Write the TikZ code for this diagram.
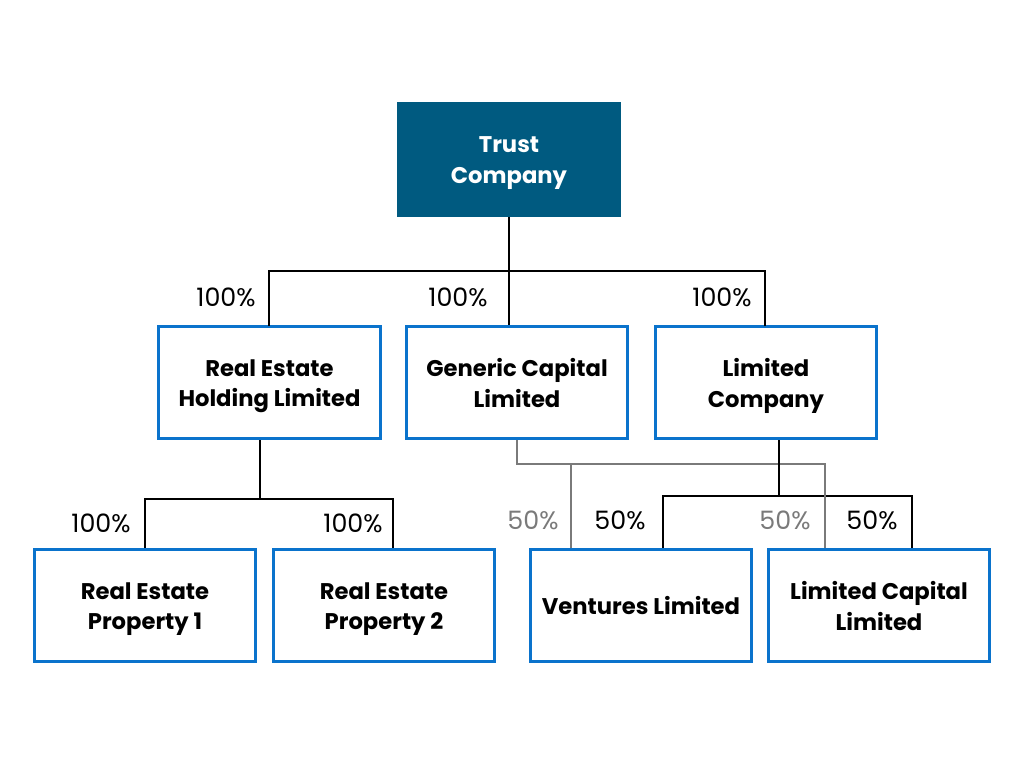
\documentclass[tikz,border=0pt]{standalone}
\usepackage{fontspec}
\setmainfont{Poppins}
\begin{document}
\begin{tikzpicture}[x=0.75pt,y=-0.75pt,
  ent/.style={draw=boxblue,line width=2.4pt,fill=white,minimum width=166pt,minimum height=84pt,inner sep=0pt},
  top/.style={fill=trustblue,minimum width=168pt,minimum height=86pt,inner sep=0pt},
  txt/.style={inner sep=0pt,align=center,font=\fontsize{17}{23}\selectfont\bfseries},
  two/.style={txt,yshift=-2.7pt},
  twoflat/.style={txt,yshift=-0.3pt},
  own/.style={line width=2.2pt,black},
  gown/.style={line width=2.2pt,linegray},
  pct/.style={font=\fontsize{19}{21}\selectfont,inner sep=0pt},
  gpct/.style={pct,text=linegray}]
\definecolor{boxblue}{HTML}{0A73CC}
\definecolor{trustblue}{HTML}{005A80}
\definecolor{linegray}{HTML}{7A7A7A}
\useasboundingbox[fill=white] (0,0) rectangle (1024,768);
% boxes
\node[top] (trust) at (509,159.5) {};
\node[ent] (reh) at (269.5,382.5) {};
\node[ent] (gc) at (517,382.5) {};
\node[ent] (lc) at (766,382.5) {};
\node[ent] (rp1) at (145,605.5) {};
\node[ent] (rp2) at (384,605.5) {};
\node[ent] (ven) at (641,605.5) {};
\node[ent] (lcap) at (879,605.5) {};
% texts
\node[two,text=white] (ttrust) at (trust) {Trust\\Company};
\node[two] (treh) at (reh) {Real Estate\\Holding Limited};
\node[twoflat] (tgc) at (gc) {Generic Capital\\Limited};
\node[two] (tlc) at (lc) {Limited\\Company};
\node[two] (trp1) at (rp1) {Real Estate\\Property 1};
\node[two] (trp2) at (rp2) {Real Estate\\Property 2};
\node[txt] (tven) at (ven) {Ventures Limited};
\node[twoflat] (tlcap) at (lcap) {Limited Capital\\Limited};
% top bus
\coordinate (b1) at (509,271);
\coordinate (bl) at (269,271);
\coordinate (br) at (765,271);
\draw[own] (trust.south) -- (b1);
\draw[own,line cap=rect] (bl |- reh.north) -- (bl) -- (br) -- (br |- lc.north);
\draw[own] (b1) -- (b1 |- gc.north);
% real estate bus
\coordinate (h1) at (260,499);
\coordinate (hl) at (145,499);
\coordinate (hr) at (393,499);
\draw[own] (h1 |- reh.south) -- (h1);
\draw[own] (hl |- rp1.north) -- (hl) -- (hr) -- (hr |- rp2.north);
% limited company bus (horizontal)
\coordinate (k1) at (779,496);
\coordinate (kl) at (663,496);
\coordinate (kr) at (912,496);
\draw[own] (kl |- ven.north) -- (kl) -- (kr) -- (kr |- lcap.north);
% gray bus
\coordinate (g1) at (517,464);
\coordinate (gv) at (571,464);
\coordinate (g2) at (825,464);
\draw[gown] (gc.south) -- (g1) -- (g2) -- (g2 |- lcap.north);
\draw[gown] (gv) -- (gv |- ven.north);
\draw[own] (k1 |- lc.south) -- (k1);
% labels
\node[pct] (p1) at (226,297) {100\%};
\node[pct] (p2) at (458,297) {100\%};
\node[pct] (p3) at (722,297) {100\%};
\node[pct] (p4) at (101,523) {100\%};
\node[pct] (p5) at (353,523) {100\%};
\node[gpct] (p6) at (533,520) {50\%};
\node[pct] (p7) at (620,520) {50\%};
\node[gpct] (p8) at (785,520) {50\%};
\node[pct] (p9) at (872,520) {50\%};
\end{tikzpicture}
\end{document}
